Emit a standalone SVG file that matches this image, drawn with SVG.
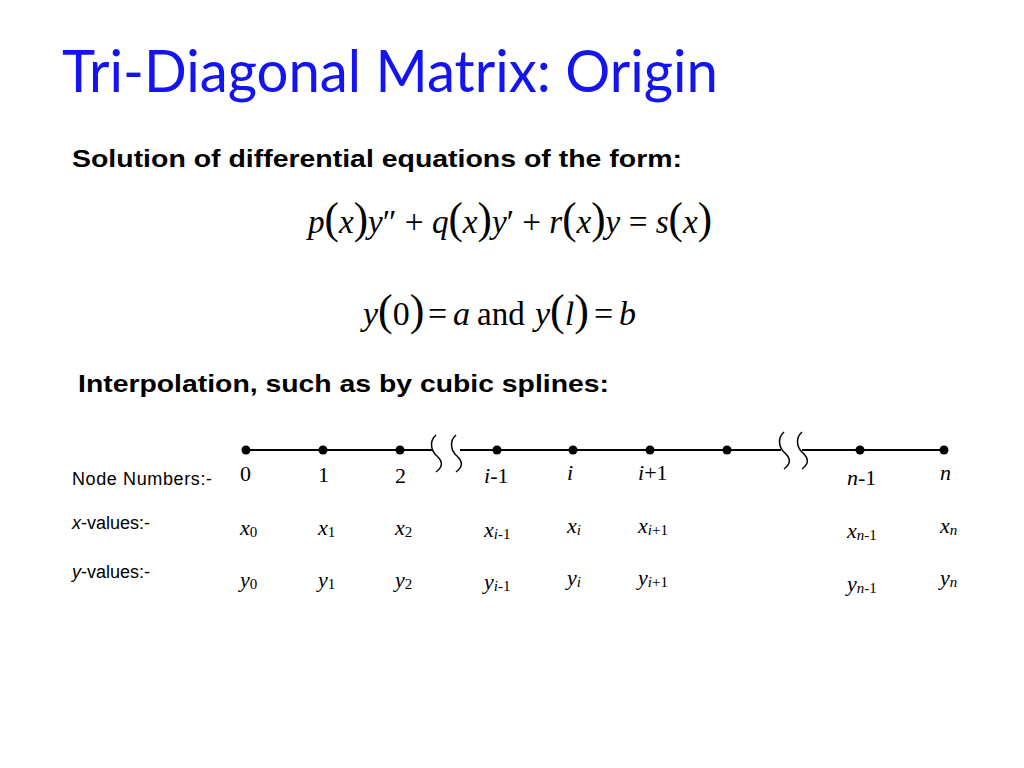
<svg xmlns="http://www.w3.org/2000/svg" width="1024" height="768" viewBox="0 0 1024 768">
<style>
.title{font-family:Lato,"Open Sans","Liberation Sans",sans-serif;font-size:58px;fill:#1414f0}
.head{font-family:"Liberation Sans",Arial,sans-serif;font-weight:bold;font-size:24.5px;fill:#000}
.lbl{font-family:"Liberation Sans",Arial,sans-serif;font-size:18px;fill:#000}
.m{font-family:"Liberation Serif","Times New Roman",serif;fill:#000}
.eq{font-size:34px}
.pp{font-size:44px}
.n{font-size:22px}
.it{font-style:italic}
.sub{font-size:15px}
.ln{stroke:#000;stroke-width:2;fill:none}
.brk{stroke:#000;stroke-width:1.5;fill:none}
</style>
<rect width="1024" height="768" fill="#fff"/>
<text class="title" x="62" y="92" textLength="656" lengthAdjust="spacingAndGlyphs">Tri-Diagonal Matrix: Origin</text>
<text class="head" x="72" y="167" textLength="610" lengthAdjust="spacingAndGlyphs">Solution of differential equations of the form:</text>
<g id="eq1">
<text class="m eq" x="308" y="233" textLength="404" lengthAdjust="spacingAndGlyphs"><tspan class="it">p</tspan><tspan class="pp">(</tspan><tspan class="it">x</tspan><tspan class="pp">)</tspan><tspan class="it">y</tspan>″ + <tspan class="it">q</tspan><tspan class="pp">(</tspan><tspan class="it">x</tspan><tspan class="pp">)</tspan><tspan class="it">y</tspan>′ + <tspan class="it">r</tspan><tspan class="pp">(</tspan><tspan class="it">x</tspan><tspan class="pp">)</tspan><tspan class="it">y</tspan> = <tspan class="it">s</tspan><tspan class="pp">(</tspan><tspan class="it">x</tspan><tspan class="pp">)</tspan></text>
</g>
<g id="eq2" class="m eq">
<text x="363" y="325"><tspan class="it">y</tspan><tspan class="pp">(</tspan>0<tspan class="pp">)</tspan></text>
<text x="428" y="325">=</text>
<text x="453" y="325" class="it">a</text>
<text x="477" y="325" font-size="33">and</text>
<text x="535" y="325"><tspan class="it">y</tspan><tspan class="pp">(</tspan><tspan class="it">l</tspan><tspan class="pp">)</tspan></text>
<text x="594" y="325">=</text>
<text x="619" y="325" class="it">b</text>
</g>
<text class="head" x="78" y="392" textLength="531" lengthAdjust="spacingAndGlyphs">Interpolation, such as by cubic splines:</text>
<g id="connectors">
<line class="ln" x1="246" y1="450" x2="433" y2="450"/>
<line class="ln" x1="460" y1="450" x2="781" y2="450"/>
<line class="ln" x1="802" y1="450" x2="944" y2="450"/>
<path class="brk" d="M436,435 C428,442 432,452 437,456 C442,461 444,466 436,472"/>
<path class="brk" d="M456,435 C448,442 452,452 457,456 C462,461 464,466 456,472"/>
<path class="brk" d="M784,432 C776,439 780,449 785,453 C790,458 792,463 784,469"/>
<path class="brk" d="M802,432 C794,439 798,449 803,453 C808,458 810,463 802,469"/>
</g>
<g id="nodes">
<circle cx="246" cy="450" r="4.5"/>
<circle cx="323" cy="450" r="4.5"/>
<circle cx="400" cy="450" r="4.5"/>
<circle cx="497" cy="450" r="4.5"/>
<circle cx="573" cy="450" r="4.5"/>
<circle cx="650" cy="450" r="4.5"/>
<circle cx="727" cy="450" r="4.5"/>
<circle cx="860" cy="450" r="4.5"/>
<circle cx="944" cy="450" r="4.5"/>
</g>
<g id="labels-left">
<text class="lbl" x="72" y="485" textLength="140">Node Numbers:-</text>
<text class="lbl" x="72" y="529"><tspan font-style="italic">x</tspan>-values:-</text>
<text class="lbl" x="72" y="578"><tspan font-style="italic">y</tspan>-values:-</text>
</g>
<g id="node-numbers" class="m n">
<text x="240" y="481">0</text>
<text x="318" y="482">1</text>
<text x="395" y="483">2</text>
<text x="484" y="483"><tspan class="it">i</tspan>-1</text>
<text x="567" y="480" class="it">i</text>
<text x="638" y="480"><tspan class="it">i</tspan>+1</text>
<text x="847" y="485"><tspan class="it">n</tspan>-1</text>
<text x="940" y="480" class="it">n</text>
</g>
<g id="x-values" class="m n">
<text x="240" y="535"><tspan class="it">x</tspan><tspan class="sub" dy="2">0</tspan></text>
<text x="318" y="535"><tspan class="it">x</tspan><tspan class="sub" dy="2">1</tspan></text>
<text x="395" y="535"><tspan class="it">x</tspan><tspan class="sub" dy="2">2</tspan></text>
<text x="484" y="537"><tspan class="it">x</tspan><tspan class="sub" dy="2"><tspan class="it">i</tspan>-1</tspan></text>
<text x="567" y="533"><tspan class="it">x</tspan><tspan class="sub it" dy="2">i</tspan></text>
<text x="638" y="533"><tspan class="it">x</tspan><tspan class="sub" dy="2"><tspan class="it">i</tspan>+1</tspan></text>
<text x="847" y="538"><tspan class="it">x</tspan><tspan class="sub" dy="2"><tspan class="it">n</tspan>-1</tspan></text>
<text x="940" y="533"><tspan class="it">x</tspan><tspan class="sub it" dy="2">n</tspan></text>
</g>
<g id="y-values" class="m n">
<text x="240" y="587"><tspan class="it">y</tspan><tspan class="sub" dy="2">0</tspan></text>
<text x="318" y="587"><tspan class="it">y</tspan><tspan class="sub" dy="2">1</tspan></text>
<text x="395" y="587"><tspan class="it">y</tspan><tspan class="sub" dy="2">2</tspan></text>
<text x="484" y="589"><tspan class="it">y</tspan><tspan class="sub" dy="2"><tspan class="it">i</tspan>-1</tspan></text>
<text x="567" y="585"><tspan class="it">y</tspan><tspan class="sub it" dy="2">i</tspan></text>
<text x="638" y="585"><tspan class="it">y</tspan><tspan class="sub" dy="2"><tspan class="it">i</tspan>+1</tspan></text>
<text x="847" y="591"><tspan class="it">y</tspan><tspan class="sub" dy="2"><tspan class="it">n</tspan>-1</tspan></text>
<text x="940" y="585"><tspan class="it">y</tspan><tspan class="sub it" dy="2">n</tspan></text>
</g>
</svg>
